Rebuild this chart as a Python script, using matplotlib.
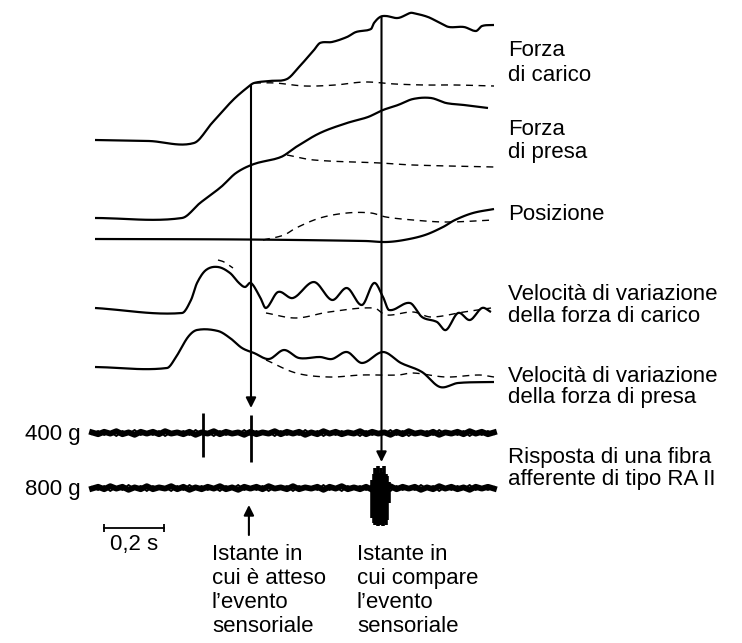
import numpy as np
import matplotlib
matplotlib.use('Agg')
import matplotlib.pyplot as plt

plt.rcParams['font.family'] = ['Liberation Sans', 'DejaVu Sans']

# ---------------- data (time in s, amplitude in arbitrary units, up = positive) ----------------
load_t = [0.00, 0.18, 0.33, 0.39, 0.46, 0.51, 0.53, 0.58, 0.64, 0.68, 0.73, 0.75, 0.79, 0.84, 0.87,
          0.92, 0.93, 0.95, 0.97, 1.01, 1.05, 1.06, 1.11, 1.15, 1.18, 1.23, 1.27, 1.29, 1.33]
load_v = [2, 1, -1, 19, 42, 55, 59, 61, 63, 75, 92, 99, 100, 105, 110,
          113, 119, 125, 126, 124, 129, 129, 125, 119, 115, 115, 111, 116, 117]
load_dash_t = [0.53, 0.60, 0.70, 0.80, 0.90, 1.00, 1.10, 1.20, 1.33]
load_dash_v = [59, 59, 56, 57, 60, 58, 57, 57, 56]

grip_t = [0.00, 0.29, 0.35, 0.42, 0.47, 0.53, 0.62, 0.67, 0.75, 0.84, 0.91, 0.96, 1.01, 1.06, 1.12, 1.17, 1.23, 1.31]
grip_v = [0, 0, 15, 31, 45, 54, 61, 71, 85, 95, 101, 108, 113, 119, 120, 115, 113, 110]
grip_dash_t = [0.64, 0.73, 0.95, 1.06, 1.33]
grip_dash_v = [63, 58, 55, 53, 51]

pos_t = [0.00, 0.50, 0.90, 0.97, 1.03, 1.10, 1.16, 1.20, 1.26, 1.33]
pos_v = [1, 0.5, -1, -2, 0, 5, 13, 20, 27, 31]
pos_dash_t = [0.56, 0.63, 0.67, 0.75, 0.84, 0.92, 0.97, 1.06, 1.17, 1.33]
pos_dash_v = [0, 5, 12, 22, 27, 27, 23, 20, 18, 20]

vload_t = [0.00, 0.29, 0.32, 0.34, 0.37, 0.41, 0.45, 0.48, 0.50, 0.52, 0.55, 0.57, 0.61, 0.66, 0.73, 0.79,
           0.84, 0.89, 0.93, 0.96, 0.98, 1.05, 1.09, 1.14, 1.17, 1.21, 1.25, 1.29, 1.32]
vload_v = [2, -3, 10, 27, 40, 43, 37, 27, 23, 27, 13, 2, 18, 12, 28, 10,
           22, 5, 27, 13, 0, 7, -7, -12, -20, -3, -10, 2, -2]
vload_dash1_t = [0.41, 0.43, 0.46]
vload_dash1_v = [50, 48, 42]
vload_dash_t = [0.57, 0.67, 0.78, 0.93, 0.97, 1.06, 1.12, 1.23, 1.32]
vload_dash_v = [-3, -8, -2, 2, -5, -2, -7, -2, 2]

vgrip_t = [0.00, 0.24, 0.27, 0.31, 0.34, 0.41, 0.45, 0.49, 0.53, 0.58, 0.63, 0.68, 0.75, 0.79, 0.84,
           0.89, 0.96, 1.02, 1.09, 1.15, 1.21, 1.33]
vgrip_v = [1, 0, 11, 31, 38, 37, 30, 20, 15, 9, 18, 10, 11, 9, 16, 5, 16, 5, -4, -19, -15, -14]
vgrip_dash_t = [0.57, 0.67, 0.78, 0.89, 1.01, 1.06, 1.17, 1.28, 1.33]
vgrip_dash_v = [8, -5, -9, -7, -7, -5, -9, -7, -9]

# RA II afferent recordings
nerve_span = [-0.01, 1.33]
n400_jitter = [1, -2, 2, -1, 3, -2, 1, -3, 2, -1, 2, -2, 3, -1, 1, -2, 2, -3, 1, -1, 3, -2, 2, -1, 1, -3, 2, -2,
               1, -1, 3, -2, 2, -1, 2, -3, 1, -2, 3, -1, 2, -2, 1, -1, 3, -2, 2, -1, 1, -3, 2, -2, 3, -1, 1, -2,
               2, -3, 1, -1, 2, -2, 3, -1, 2, -2, 1]
n800_jitter = [-1, 2, -2, 3, -1, 2, -3, 1, -2, 3, -2, 1, -1, 3, -2, 2, -3, 1, -2, 2, -1, 3, -2, 1, -3, 2, -1, 2,
               -2, 3, -1, 1, -2, 3, -2, 1, -1, 2, -3, 2, -1, 3, -2, 1, -2, 2, -3, 1, -1, 3, -2, 2, -1, 2, -3, 1,
               -2, 3, -1, 2, -2, 1, -3, 2, -1, 2, -1]
n400_spike_t = [0.36, 0.52]
n400_spike_up = [20, 18]
n400_spike_down = [24, 29]
n800_burst_t = [0.925, 0.93, 0.935, 0.94, 0.945, 0.95, 0.955, 0.96, 0.965, 0.97, 0.975, 0.98]
n800_burst_up = [8, 14, 20, 18, 22, 15, 20, 16, 22, 14, 12, 6]
n800_burst_down = [30, 35, 37, 36, 38, 37, 36, 38, 35, 37, 32, 15]

expected_t = 0.52     # expected sensory event
actual_t = 0.955      # actual sensory event
scale_len = 0.2       # s

right_labels = [["Forza", "di carico"], ["Forza", "di presa"], ["Posizione"],
                ["Velocità di variazione", "della forza di carico"],
                ["Velocità di variazione", "della forza di presa"],
                ["Risposta di una fibra", "afferente di tipo RA II"]]
weight_labels = ["400 g", "800 g"]
bottom_labels = [["Istante in", "cui è atteso", "l\u2019evento", "sensoriale"],
                 ["Istante in", "cui compare", "l\u2019evento", "sensoriale"]]
scale_label = "0,2 s"

# ---------------- layout ----------------
W, H = 742, 643
PXS = 300.0          # pixels per second
T0PX = 95.0          # pixel of t = 0
def X(px):
    return (px - T0PX) / PXS

base = dict(load=142, grip=218, pos=240, vload=310, vgrip=368, n400=433, n800=488)
FS = 16

fig = plt.figure(figsize=(W / 100, H / 100), dpi=100)
ax = fig.add_axes([0, 0, 1, 1])
ax.set_xlim(X(0), X(W))
ax.set_ylim(H, 0)
ax.axis('off')


def smooth(t, v, n=12):
    """Cubic Hermite curve through the read points (tangents from neighbours)."""
    t = np.asarray(t, float)
    v = np.asarray(v, float)
    m = np.zeros_like(v)
    if len(t) > 2:
        m[1:-1] = (v[2:] - v[:-2]) / (t[2:] - t[:-2])
    m[0] = (v[1] - v[0]) / (t[1] - t[0])
    m[-1] = (v[-1] - v[-2]) / (t[-1] - t[-2])
    ts, vs = [], []
    s = np.linspace(0, 1, n, endpoint=False)
    for i in range(len(t) - 1):
        h = t[i + 1] - t[i]
        h00 = 2 * s ** 3 - 3 * s ** 2 + 1
        h10 = s ** 3 - 2 * s ** 2 + s
        h01 = -2 * s ** 3 + 3 * s ** 2
        h11 = s ** 3 - s ** 2
        ts.append(t[i] + s * h)
        vs.append(h00 * v[i] + h10 * h * m[i] + h01 * v[i + 1] + h11 * h * m[i + 1])
    ts.append([t[-1]])
    vs.append([v[-1]])
    return np.concatenate(ts), np.concatenate(vs)


def trace(t, v, key, dashed=False):
    ts, vs = smooth(t, v)
    y = base[key] - vs
    if dashed:
        ax.plot(ts, y, color='k', lw=1.0, dashes=(5, 4))
    else:
        ax.plot(ts, y, color='k', lw=1.6, solid_capstyle='butt')


trace(load_t, load_v, 'load')
trace(load_dash_t, load_dash_v, 'load', True)
trace(grip_t, grip_v, 'grip')
trace(grip_dash_t, grip_dash_v, 'grip', True)
trace(pos_t, pos_v, 'pos')
trace(pos_dash_t, pos_dash_v, 'pos', True)
trace(vload_t, vload_v, 'vload')
trace(vload_dash1_t, vload_dash1_v, 'vload', True)
trace(vload_dash_t, vload_dash_v, 'vload', True)
trace(vgrip_t, vgrip_v, 'vgrip')
trace(vgrip_dash_t, vgrip_dash_v, 'vgrip', True)

# nerve recordings
for key, jit in (('n400', n400_jitter), ('n800', n800_jitter)):
    tg = np.linspace(nerve_span[0], nerve_span[1], len(jit))
    j = np.array(jit, float)
    ax.plot(tg, base[key] - 0.6 * j, color='k', lw=4.2, solid_joinstyle='round')
    ax.plot(tg, base[key] + j, color='k', lw=1.4)
ax.vlines(n400_spike_t, base['n400'] - np.array(n400_spike_up), base['n400'] + np.array(n400_spike_down),
          color='k', lw=2.0)
ax.vlines(n800_burst_t, base['n800'] - np.array(n800_burst_up), base['n800'] + np.array(n800_burst_down),
          color='k', lw=2.6)

# event lines with arrows
ap = dict(arrowstyle='-|>', color='k', lw=1.5, mutation_scale=15, shrinkA=0, shrinkB=0)
top1 = base['load'] - np.interp(expected_t, load_t, load_v)
ax.annotate('', xy=(expected_t, base['n400'] - 25), xytext=(expected_t, top1), arrowprops=ap)
top2 = base['load'] - np.interp(actual_t, load_t, load_v)
ax.annotate('', xy=(actual_t, base['n400'] + 29), xytext=(actual_t, top2), arrowprops=ap)
ax.annotate('', xy=(expected_t - 0.007, base['n800'] + 17), xytext=(expected_t - 0.007, base['n800'] + 47),
            arrowprops=ap)

# scale bar
sb0 = X(104)
sby = 528
ax.plot([sb0, sb0 + scale_len], [sby, sby], color='k', lw=1.3)
ax.vlines([sb0, sb0 + scale_len], sby - 4, sby + 4, color='k', lw=1.3)
ax.text(sb0 + scale_len / 2, 550, scale_label, fontsize=FS, ha='center', va='baseline')

# weight labels
ax.text(X(81), base['n400'] + 7, weight_labels[0], fontsize=FS, ha='right', va='baseline')
ax.text(X(81), base['n800'] + 7, weight_labels[1], fontsize=FS, ha='right', va='baseline')

# right labels
right_baselines = [[56, 81], [135, 158], [220], [300, 322], [382, 403], [463, 485]]
for lines, ys in zip(right_labels, right_baselines):
    for s, yb in zip(lines, ys):
        ax.text(X(508), yb, s, fontsize=FS, ha='left', va='baseline')

# bottom labels
for lines, xl in zip(bottom_labels, (212, 357)):
    for i, s in enumerate(lines):
        ax.text(X(xl), 560 + 24 * i, s, fontsize=FS, ha='left', va='baseline')

fig.savefig('out.png', dpi=100, facecolor='white')
